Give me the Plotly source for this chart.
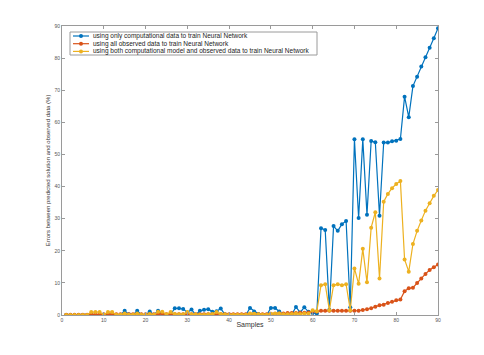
import plotly.graph_objects as go

samples = list(range(1, 91))

only_computational = [
    0, 0, 0, 0, 0, 0, 0, 0, 0, 0,
    0, 0, 0, 0, 1.3, 0.2, 0, 1.3, 0.1, 0,
    1.1, 0.1, 1.3, 0.3, 0, 0.2, 2.1, 2.1, 1.9, 0.8,
    1.7, 0.1, 1.3, 1.6, 1.8, 1.0, 1.2, 2.0, 0.2, 0,
    0, 0, 0, 0, 2.2, 1.1, 0.3, 0, 0, 2.2,
    2.2, 1.1, 0.1, 0, 0.2, 2.5, 0.8, 2.4, 1.0, 0.6,
    0.5, 27.0, 26.5, 1.6, 27.7, 26.2, 28.3, 29.3, 2.4, 54.7,
    30.2, 54.7, 31.2, 54.2, 53.8, 30.9, 53.7, 53.7, 54.1, 54.3,
    54.8, 68.0, 61.6, 71.3, 74.2, 77.4, 80.3, 83.2, 86.2, 89.3,
]

all_observed = [
    0.1, 0.1, 0.1, 0.1, 0.1, 0.1, 0.3, 0.3, 0.3, 0.2,
    0.3, 0.3, 0.2, 0.2, 0.2, 0.2, 0.2, 0.2, 0.2, 0.2,
    0.2, 0.2, 0.3, 0.4, 0.2, 0.2, 0.2, 0.2, 0.2, 0.4,
    0.2, 0.2, 0.2, 0.2, 0.2, 0.2, 0.3, 0.2, 0.2, 0.2,
    0.2, 0.2, 0.2, 0.2, 0.3, 0.3, 0.2, 0.2, 0.2, 0.4,
    0.4, 0.5, 0.5, 0.6, 0.6, 0.6, 0.7, 0.7, 0.8, 1.1,
    1.1, 1.3, 1.3, 1.3, 1.3, 1.3, 1.3, 1.3, 1.3, 1.34,
    1.34, 1.56, 1.77, 2.1, 2.6, 3.0, 3.2, 3.7, 4.1, 4.6,
    4.8, 7.4, 8.3, 8.5, 10.0, 11.4, 12.8, 14.0, 14.9, 15.7,
]

model_and_observed = [
    0, 0, 0, 0, 0, 0, 0.9, 0.9, 0.9, 0.1,
    0.9, 0.9, 0.1, 0.1, 0.5, 0.1, 0.1, 0.5, 0.1, 0.1,
    0.3, 0.1, 1.0, 1.0, 0.2, 0.9, 0.3, 0.2, 0.2, 0.9,
    0.2, 0.2, 0.1, 0.1, 0.2, 0.3, 0.9, 0.3, 0.2, 0.1,
    0.1, 0.1, 0.1, 0.1, 0.5, 0.4, 0.2, 0.1, 0.1, 0.4,
    0.5, 0.5, 0.2, 0.2, 0.3, 0.5, 0.3, 0.5, 0.4, 1.5,
    1.2, 9.3, 9.6, 1.5, 9.3, 9.6, 9.3, 9.6, 1.5, 14.5,
    9.7, 20.6, 10.2, 27.2, 32.0, 11.4, 35.3, 37.7, 39.5, 40.8,
    41.7, 17.3, 13.5, 22.1, 26.2, 29.4, 32.5, 34.8, 37.1, 38.9,
]

series = [
    ("using only computational data to train Neural Network", only_computational, "#0072BD"),
    ("using all observed data to train Neural Network", all_observed, "#D95319"),
    ("using both computational model and observed data to train Neural Network", model_and_observed, "#EDB120"),
]

fig = go.Figure()
for name, vals, col in series:
    fig.add_trace(go.Scatter(
        x=samples, y=vals, name=name, mode="lines+markers",
        line=dict(color=col, width=1.2),
        marker=dict(color=col, size=4),
        showlegend=False,
    ))

# plotly's legend rows are too tall for this, so draw a compact MATLAB-like legend by hand
pw, ph = 376.0, 289.0  # plot area size in px
def px_x(p):
    return p / pw
def px_y(p):
    return 1 - p / ph

shapes = [dict(type="rect", xref="paper", yref="paper",
               x0=px_x(8), x1=px_x(255), y0=px_y(6), y1=px_y(29),
               line=dict(color="#9a9a9a", width=1), fillcolor="white", layer="above")]
annotations = []
for i, (name, vals, col) in enumerate(series):
    yy = px_y(10 + i * 7.7)
    shapes.append(dict(type="line", xref="paper", yref="paper",
                       x0=px_x(11), x1=px_x(27), y0=yy, y1=yy,
                       line=dict(color=col, width=1.2), layer="above"))
    shapes.append(dict(type="circle", xref="paper", yref="paper",
                       xsizemode="pixel", ysizemode="pixel",
                       xanchor=px_x(19), yanchor=yy, x0=-2, x1=2, y0=-2, y1=2,
                       fillcolor=col, line=dict(width=0), layer="above"))
    annotations.append(dict(xref="paper", yref="paper", x=px_x(28.5), y=yy,
                            xanchor="left", yanchor="middle", showarrow=False,
                            text=name, font=dict(size=6.5, color="#222222")))

axis_style = dict(
    showgrid=False, zeroline=False, showline=True, mirror="ticks",
    linecolor="#9a9a9a", linewidth=1, ticks="inside", ticklen=3,
    tickcolor="#9a9a9a", tickfont=dict(size=5, color="#555555"),
    range=[0, 90], dtick=10,
)

fig.update_layout(
    width=484, height=355,
    margin=dict(l=54, r=54, t=18, b=48),
    paper_bgcolor="white", plot_bgcolor="white",
    font=dict(family="Liberation Sans, Arial, sans-serif", color="#333333"),
    xaxis=dict(axis_style, title=dict(text="Samples", font=dict(size=7), standoff=0)),
    yaxis=dict(axis_style, title=dict(text="Errors between predicted solution and observed data (%)",
                                      font=dict(size=6), standoff=3)),
    shapes=shapes,
    annotations=annotations,
)

fig.write_html("out.html")
